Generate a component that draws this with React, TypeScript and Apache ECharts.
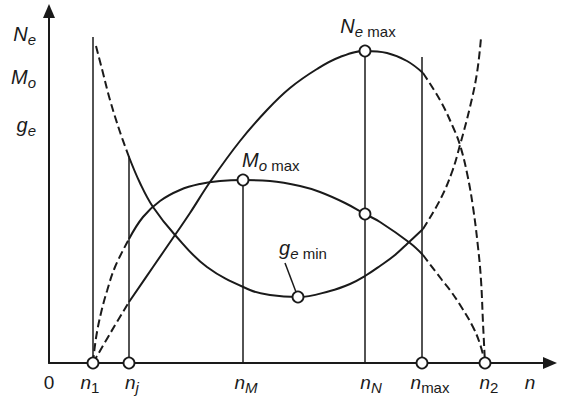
import React, { useEffect, useRef } from "react";
import * as echarts from "echarts";

const INK = "#1a1a1a";
const FONT = "'Liberation Sans', Arial, Helvetica, sans-serif";

// axis extents (engine speed n, and the common ordinate)
const X_MAX = 501;
const Y_MAX = 352;

// n-axis tick labels: main letter, subscript, subscript italic?, label position
const xLabelMain = ["0", "n", "n", "n", "n", "n", "n", "n"];
const xLabelSub = ["", "1", "j", "M", "N", "max", "2", ""];
const xLabelSubItalic = [false, false, true, true, true, false, false, false];
const xLabelAt = [0, 41, 83, 197, 322, 381, 440, 481];

// ordinate labels
const yLabelMain = ["N", "M", "g"];
const yLabelSub = ["e", "o", "e"];
const yLabelAt = [329, 286, 238];

// vertical guide lines at n1, nj, nM, nN, nmax
const guideX = [44, 80, 194, 316, 373];
const guideTop = [326, 207, 183, 312, 306];

// effective power Ne
const neDashLeft = [[44, 0], [62, 31], [80, 61]];
const neSolid = [
  [80, 61], [104, 96], [126, 128], [141, 150], [161, 181], [191, 222], [218, 253],
  [241, 275], [268, 294], [291, 306], [316, 312], [338, 310], [358, 302], [374, 290],
];
const neDashRight = [
  [374, 290], [391, 263], [404, 236], [411, 218], [418, 190], [424, 156],
  [429, 116], [432, 83], [434, 40], [436, 0],
];

// torque Mo
const moDashLeft = [[44, 0], [47, 25], [52, 50], [58, 72], [66, 96], [80, 124]];
const moSolid = [
  [80, 124], [94, 146], [111, 162], [131, 173], [151, 179], [171, 182], [194, 183],
  [221, 182], [251, 177], [271, 171], [296, 160], [316, 149], [331, 141], [361, 120], [374, 108],
];
const moDashRight = [[374, 108], [393, 83], [401, 73], [413, 55], [424, 36], [431, 19], [436, 0]];

// specific fuel consumption ge
const geDashLeft = [[47, 317], [54, 290], [61, 263], [71, 231], [80, 206]];
const geSolid = [
  [80, 206], [91, 180], [104, 156], [126, 128], [158, 96], [201, 73], [221, 68], [249, 66],
  [281, 72], [301, 79], [316, 87], [331, 97], [346, 108], [359, 120], [374, 134],
];
const geDashRight = [[374, 134], [391, 163], [403, 191], [411, 218], [421, 256], [428, 290], [432, 325]];

// characteristic points (open circles)
const axisPointsN = [44, 80, 373, 436];
const moMax = [194, 183];
const neMax = [316, 312];
const moAtNN = [316, 149];
const geMin = [249, 66];

// leader from the ge min label to its point
const geLeader = [[236, 100], [247, 71]];

const base = { fontFamily: FONT, color: INK, textBorderWidth: 0 };
const rich = {
  m: { ...base, fontSize: 20, fontStyle: "italic", lineHeight: 26 },
  x: { ...base, fontSize: 19, fontStyle: "italic", lineHeight: 26 },
  r: { ...base, fontSize: 19, lineHeight: 26 },
  s: { ...base, fontSize: 15, lineHeight: 12, verticalAlign: "bottom" },
  si: { ...base, fontSize: 15, fontStyle: "italic", lineHeight: 12, verticalAlign: "bottom" },
};

const labelBase = { show: true, position: "inside", color: INK, opacity: 1, textBorderWidth: 0, rich };

const curve = (data: number[][], dashed: boolean) => ({
  type: "line",
  data,
  smooth: 0.4,
  symbol: "none",
  showSymbol: false,
  silent: true,
  clip: false,
  lineStyle: { color: INK, width: 2, opacity: 1, type: dashed ? [8, 4] : "solid" },
  z: 4,
});

export default function App() {
  const ref = useRef<HTMLDivElement>(null);

  useEffect(() => {
    if (!ref.current) return;
    const chart = echarts.init(ref.current, undefined, { renderer: "svg" });

    const xLabelData = xLabelAt.map((x, i) => {
      const main = xLabelMain[i] === "0" ? `{r|0}` : `{x|${xLabelMain[i]}}`;
      const sub = xLabelSub[i] ? `{${xLabelSubItalic[i] ? "si" : "s"}|${xLabelSub[i]}}` : "";
      return { value: [x, 0], label: { formatter: main + sub } };
    });

    const yLabelData = yLabelAt.map((y, i) => ({
      value: [0, y],
      label: { formatter: `{m|${yLabelMain[i]}}{si|${yLabelSub[i]}}` },
    }));

    const axisLine = {
      show: true,
      onZero: false,
      symbol: ["none", "triangle"],
      symbolSize: [12, 14],
      lineStyle: { color: INK, width: 2 },
    };

    const option: any = {
      animation: false,
      backgroundColor: "#ffffff",
      grid: { left: 49, right: 11, top: 11, bottom: 38 },
      xAxis: {
        type: "value",
        min: 0,
        max: X_MAX,
        axisLine,
        axisTick: { show: false },
        axisLabel: { show: false },
        splitLine: { show: false },
      },
      yAxis: {
        type: "value",
        min: 0,
        max: Y_MAX,
        axisLine,
        axisTick: { show: false },
        axisLabel: { show: false },
        splitLine: { show: false },
      },
      series: [
        {
          type: "lines",
          coordinateSystem: "cartesian2d",
          silent: true,
          z: 2,
          lineStyle: { color: INK, width: 1.5, opacity: 1 },
          data: [
            ...guideX.map((x, i) => ({ coords: [[x, 0], [x, guideTop[i]]] })),
            { coords: geLeader },
          ],
        },
        curve(neDashLeft, true),
        curve(neSolid, false),
        curve(neDashRight, true),
        curve(moDashLeft, true),
        curve(moSolid, false),
        curve(moDashRight, true),
        curve(geDashLeft, true),
        curve(geSolid, false),
        curve(geDashRight, true),
        {
          type: "scatter",
          silent: true,
          z: 10,
          symbol: "circle",
          symbolSize: 11,
          itemStyle: { color: "#ffffff", borderColor: INK, borderWidth: 1.8, opacity: 1 },
          label: labelBase,
          data: [
            ...axisPointsN.map((x) => ({ value: [x, 0], label: { show: false } })),
            { value: moAtNN, label: { show: false } },
            { value: neMax, label: { formatter: "{m|N}{si|e}{s| max}", offset: [3, -25] } },
            { value: moMax, label: { formatter: "{m|M}{si|o}{s| max}", align: "left", offset: [-1, -20] } },
            { value: geMin, label: { formatter: "{m|g}{si|e}{s| min}", offset: [5, -49] } },
          ],
        },
        {
          type: "scatter",
          silent: true,
          z: 6,
          symbolSize: 1,
          itemStyle: { color: "transparent", opacity: 1 },
          label: { ...labelBase, offset: [0, 19] },
          data: xLabelData,
        },
        {
          type: "scatter",
          silent: true,
          z: 6,
          symbolSize: 1,
          itemStyle: { color: "transparent", opacity: 1 },
          label: { ...labelBase, align: "right", offset: [-13, 0] },
          data: yLabelData,
        },
      ],
    };

    chart.setOption(option);
    return () => chart.dispose();
  }, []);

  return (
    <div
      ref={ref}
      style={{ position: "fixed", left: 0, top: 0, width: 561, height: 401, background: "#fff" }}
    />
  );
}
